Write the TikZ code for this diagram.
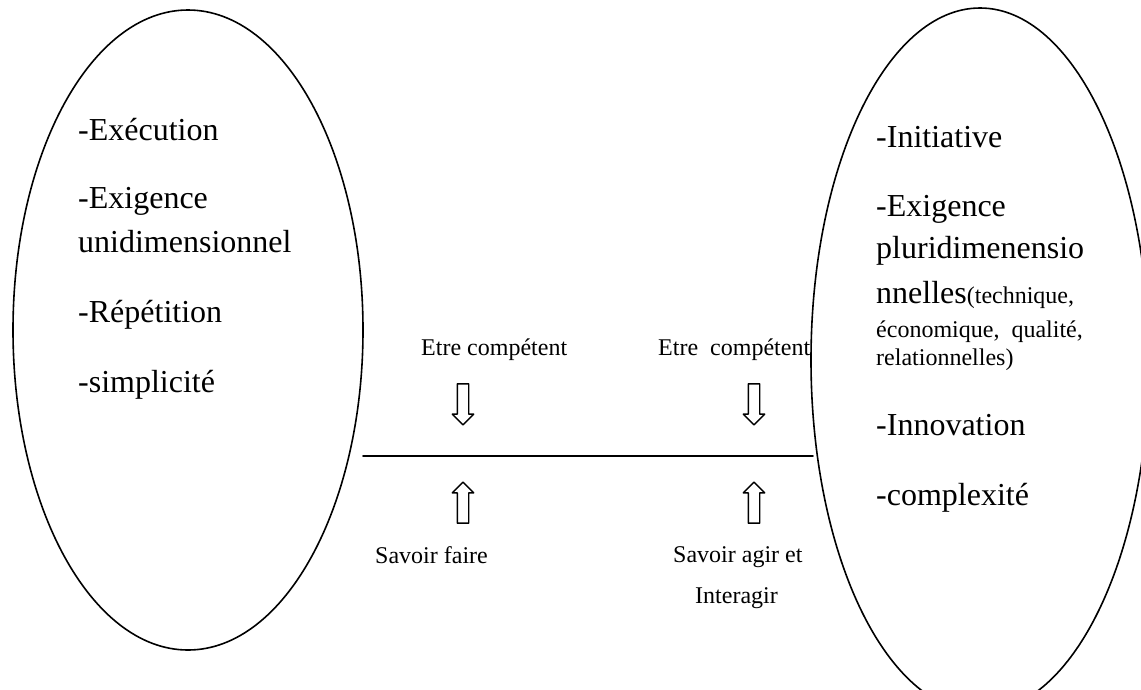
\documentclass[tikz,border=0pt]{standalone}
\usepackage{fontspec}
\setmainfont{Liberation Serif}
\usetikzlibrary{shapes.arrows,positioning}

\begin{document}
\begin{tikzpicture}[x=1pt, y=-1pt, line cap=round, line join=round,
  bigtxt/.style={anchor=base west, inner sep=0pt, font=\fontsize{32}{40}\selectfont},
  smalltxt/.style={anchor=base west, inner sep=0pt, font=\fontsize{24}{30}\selectfont},
  hollow/.style={single arrow, draw, line width=1.4pt, minimum height=41pt, inner xsep=0pt, inner ysep=5pt,
    single arrow head extend=5pt, single arrow tip angle=90, single arrow head indent=0pt}]

\clip (0,0) rectangle (1141,689);

% the two ovals
\coordinate (lcenter) at (188,330);
\coordinate (rcenter) at (980,360);
\draw[line width=1.6pt] (lcenter) ellipse (175pt and 320pt);
\draw[line width=1.6pt] (rcenter) ellipse (169pt and 352pt);

% left oval
\node[bigtxt] (exec) at (78,140) {-Exécution};
\node[bigtxt] (exig) at (78,208) {-Exigence};
\node[bigtxt] (unid) at (78,252) {unidimensionnel};
\node[bigtxt] (repet) at (78,322) {-Répétition};
\node[bigtxt] (simpl) at (78,392) {-simplicité};

% right oval
\node[bigtxt] (init) at (876,147) {-Initiative};
\node[bigtxt] (exigb) at (876,216) {-Exigence};
\node[bigtxt] (pluri) at (876,258) {pluridimenensio};
\node[bigtxt] (nnel) at (876,303) {nnelles{\fontsize{24}{30}\selectfont(technique,}};
\node[smalltxt] (econ) at (876,337) {économique,\ \ qualité,};
\node[smalltxt] (relat) at (876,365) {relationnelles)};
\node[bigtxt] (innov) at (876,435) {-Innovation};
\node[bigtxt] (compl) at (876,505) {-complexité};

% middle line
\coordinate (lineL) at (363,456);
\coordinate (lineR) at (813,456);
\draw[line width=1.9pt] (lineL) -- (lineR);

% arrows
\node[hollow, rotate=-90] (downL) at (463,401.5) {};
\node[hollow, rotate=-90] (downR) at (754,401.5) {};
\node[hollow, rotate=90] (upL) at (463,505.5) {};
\node[hollow, rotate=90] (upR) at (754,505.5) {};

% labels
\node[smalltxt] (compL) at (421,355) {Etre compétent};
\node[smalltxt] (compR) at (658,355) {Etre\ \ compétent};
\node[smalltxt] (faire) at (375,563) {Savoir faire};
\node[smalltxt] (agir) at (673,562) {Savoir agir et};
\node[smalltxt] (inter) at (695,603) {Interagir};

\end{tikzpicture}
\end{document}
